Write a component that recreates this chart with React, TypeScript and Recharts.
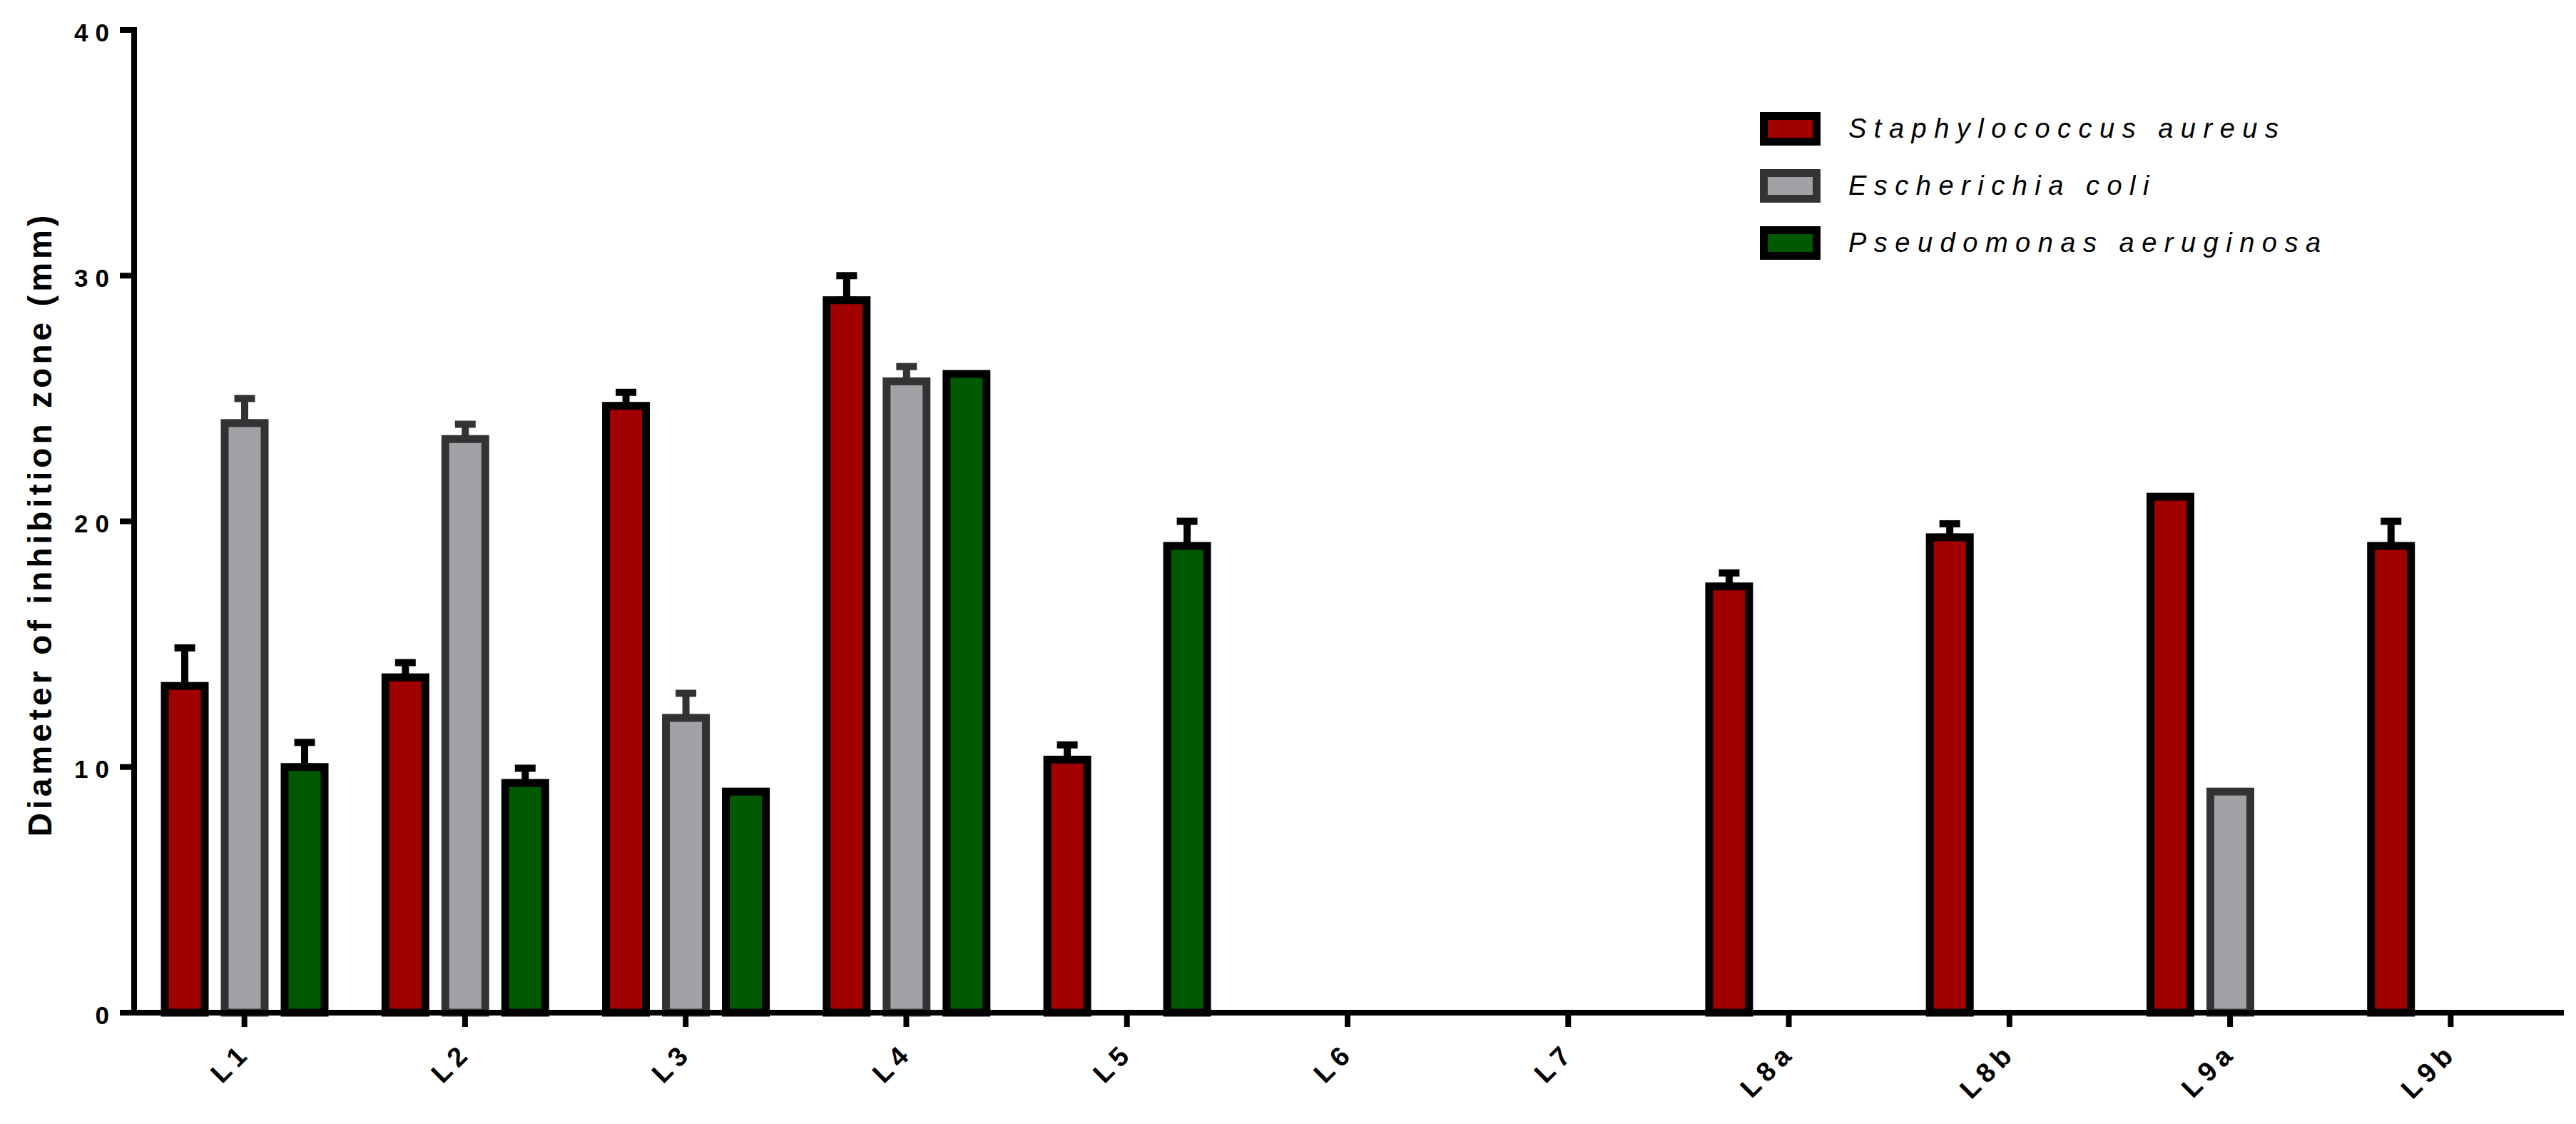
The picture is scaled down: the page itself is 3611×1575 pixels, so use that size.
import React from 'react';
import { BarChart, Bar, XAxis, YAxis, ErrorBar, Legend } from 'recharts';

const FONT = '"Liberation Sans", Arial, Helvetica, sans-serif';

// ---- data ----
const categories = ['L1', 'L2', 'L3', 'L4', 'L5', 'L6', 'L7', 'L8a', 'L8b', 'L9a', 'L9b'];
const saMean: (number | null)[] = [13.3, 13.65, 24.7, 29.0, 10.3, null, null, 17.35, 19.35, 21.0, 19.0];
const saErr: (number | null)[] = [1.55, 0.6, 0.55, 1.0, 0.6, null, null, 0.55, 0.55, null, 1.0];
const ecMean: (number | null)[] = [24.0, 23.35, 12.0, 25.7, null, null, null, null, null, 9.0, null];
const ecErr: (number | null)[] = [1.0, 0.6, 1.0, 0.6, null, null, null, null, null, null, null];
const paMean: (number | null)[] = [10.0, 9.35, 9.0, 26.0, 19.0, null, null, null, null, null, null];
const paErr: (number | null)[] = [1.0, 0.6, null, null, 1.0, null, null, null, null, null, null];

const yTicks = [0, 10, 20, 30, 40];

const seriesKeys = ['sa', 'ec', 'pa'];
const seriesNames = ['Staphylococcus aureus', 'Escherichia coli', 'Pseudomonas aeruginosa'];
const seriesFill = ['#a00000', '#a2a1a6', '#005800'];
const seriesStroke = ['#000000', '#333333', '#000000'];

const toErr = (e: number | null) => (e == null ? null : [0, e]);

const data = categories.map((c, i) => ({
  cat: c,
  sa: saMean[i],
  saE: toErr(saErr[i]),
  ec: ecMean[i],
  ecE: toErr(ecErr[i]),
  pa: paMean[i],
  paE: toErr(paErr[i]),
}));

const BarShape = (props: any) => {
  const { x, y, width, height, fill, stroke, strokeWidth, value } = props;
  if (value == null || !height || isNaN(height)) return null;
  return (
    <rect x={x} y={y} width={width} height={height} fill={fill} stroke={stroke} strokeWidth={strokeWidth} />
  );
};

const XTick = (props: any) => {
  const { x, y, payload } = props;
  return (
    <g transform={`translate(${x + 11},${y + 38})`}>
      <text
        x={0}
        y={0}
        textAnchor="end"
        transform="rotate(-45)"
        fontFamily={FONT}
        fontSize={38}
        fontWeight={700}
        letterSpacing={8}
        fill="#000"
      >
        {payload.value}
      </text>
    </g>
  );
};

const YTick = (props: any) => {
  const { x, y, payload } = props;
  return (
    <text
      x={x}
      y={y}
      dy={3}
      textAnchor="end"
      dominantBaseline="central"
      fontFamily={FONT}
      fontSize={35}
      fontWeight={700}
      letterSpacing={10}
      fill="#000"
    >
      {payload.value}
    </text>
  );
};

const YLabel = (props: any) => {
  const vb = props.viewBox || { x: 0, y: 0, width: 188, height: 1377 };
  const cx = vb.x + 56;
  const cy = vb.y + vb.height / 2 + 4;
  return (
    <text
      x={cx}
      y={cy}
      textAnchor="middle"
      dominantBaseline="central"
      transform={`rotate(-90 ${cx} ${cy})`}
      fontFamily={FONT}
      fontSize={46}
      fontWeight={700}
      letterSpacing={5}
      fill="#000"
    >
      Diameter of inhibition zone (mm)
    </text>
  );
};

const LegendContent = () => {
  return (
    <div style={{ fontFamily: FONT }}>
      {seriesKeys.map((k, i) => (
        <div key={k} style={{ display: 'flex', alignItems: 'center', height: 80 }}>
          <div
            style={{
              width: 85,
              height: 47,
              boxSizing: 'border-box',
              border: `11px solid ${seriesStroke[i]}`,
              background: seriesFill[i],
              flex: 'none',
            }}
          />
          <span
            style={{
              marginLeft: 39,
              fontSize: 38,
              fontStyle: 'italic',
              letterSpacing: 10.5,
              color: '#000',
              whiteSpace: 'nowrap',
              lineHeight: '47px',
            }}
          >
            {seriesNames[i]}
          </span>
        </div>
      ))}
    </div>
  );
};

export default function App() {
  return (
    <div style={{ position: 'absolute', left: 0, top: 0, width: 3611, height: 1575, background: '#fff' }}>
      <BarChart
        width={3611}
        height={1575}
        data={data}
        margin={{ top: 42, right: 21, bottom: 0, left: 0 }}
        barSize={56}
        barGap={28}
      >
        {seriesKeys.map((k, i) => (
          <Bar
            key={k}
            dataKey={k}
            name={seriesNames[i]}
            fill={seriesFill[i]}
            stroke={seriesStroke[i]}
            strokeWidth={11}
            shape={<BarShape />}
            isAnimationActive={false}
          >
            <ErrorBar
              dataKey={`${k}E`}
              width={14.5}
              strokeWidth={10}
              stroke={seriesStroke[i]}
              direction="y"
              isAnimationActive={false}
            />
          </Bar>
        ))}
        <XAxis
          dataKey="cat"
          interval={0}
          height={156}
          tickSize={20}
          tickMargin={0}
          axisLine={{ stroke: '#000', strokeWidth: 8, strokeLinecap: 'square' }}
          tickLine={{ stroke: '#000', strokeWidth: 8 }}
          tick={<XTick />}
        />
        <YAxis
          type="number"
          domain={[0, 40]}
          ticks={yTicks}
          width={188}
          tickSize={20}
          tickMargin={5}
          axisLine={{ stroke: '#000', strokeWidth: 8, strokeLinecap: 'square' }}
          tickLine={{ stroke: '#000', strokeWidth: 8 }}
          tick={<YTick />}
          label={<YLabel />}
        />
        <Legend
          layout="vertical"
          align="center"
          verticalAlign="middle"
          content={<LegendContent />}
          wrapperStyle={{ left: 2467, top: 140, width: 1100, height: 240 }}
        />
      </BarChart>
    </div>
  );
}
